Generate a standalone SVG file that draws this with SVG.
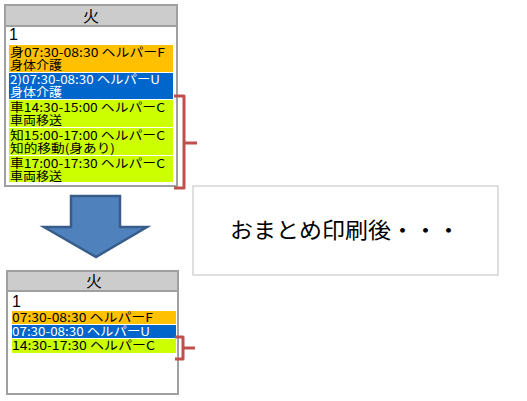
<svg xmlns="http://www.w3.org/2000/svg" width="527" height="401" viewBox="0 0 527 401">
<style>
.hdr{fill:#cccccc;stroke:#a0a0a0;stroke-width:2}
.frame{fill:#ffffff;stroke:#a0a0a0;stroke-width:2}
.t{font-family:"Noto Sans CJK JP","DejaVu Sans",sans-serif;font-size:12px;fill:#000}
.w{fill:#ffffff}
.h{font-family:"Noto Sans CJK JP",sans-serif;font-size:16px;fill:#000;text-anchor:middle}
.n{font-family:"Liberation Sans",sans-serif;font-size:16px;fill:#000}
.or{fill:#ffc000}.bl{fill:#0066cc}.gr{fill:#ccff00}
.br{fill:none;stroke:#c0504d;stroke-width:3;stroke-linejoin:round}
</style>
<g id="table-before">
<rect class="frame" x="5" y="5" width="172" height="181"/>
<rect class="hdr" x="5" y="5" width="172" height="21"/>
<text class="h" x="91" y="22">火</text>
<text class="n" x="9" y="40">1</text>
<rect class="or" x="9" y="45" width="164" height="27"/>
<rect class="bl" x="9" y="73" width="164" height="26"/>
<rect class="gr" x="9" y="100" width="164" height="27"/>
<rect class="gr" x="9" y="128" width="164" height="27"/>
<rect class="gr" x="9" y="156" width="164" height="26"/>
<text class="t" x="10" y="57" textLength="155" lengthAdjust="spacingAndGlyphs">身07:30-08:30 ヘルパーF</text>
<text class="t" x="10" y="70" textLength="52" lengthAdjust="spacingAndGlyphs">身体介護</text>
<text class="t w" x="10" y="84" textLength="150" lengthAdjust="spacingAndGlyphs">2)07:30-08:30 ヘルパーU</text>
<text class="t w" x="10" y="97" textLength="52" lengthAdjust="spacingAndGlyphs">身体介護</text>
<text class="t" x="10" y="112" textLength="155" lengthAdjust="spacingAndGlyphs">車14:30-15:00 ヘルパーC</text>
<text class="t" x="10" y="125" textLength="52" lengthAdjust="spacingAndGlyphs">車両移送</text>
<text class="t" x="10" y="140" textLength="155" lengthAdjust="spacingAndGlyphs">知15:00-17:00 ヘルパーC</text>
<text class="t" x="10" y="153" textLength="105" lengthAdjust="spacingAndGlyphs">知的移動(身あり)</text>
<text class="t" x="10" y="168" textLength="155" lengthAdjust="spacingAndGlyphs">車17:00-17:30 ヘルパーC</text>
<text class="t" x="10" y="181" textLength="52" lengthAdjust="spacingAndGlyphs">車両移送</text>
</g>
<g id="table-after">
<rect class="frame" x="7" y="271" width="171" height="123"/>
<rect class="hdr" x="7" y="271" width="171" height="20"/>
<text class="h" x="94" y="287">火</text>
<text class="n" x="12" y="307">1</text>
<rect class="or" x="12" y="311" width="164" height="13"/>
<rect class="bl" x="12" y="325" width="164" height="13"/>
<rect class="gr" x="12" y="339" width="164" height="14"/>
<text class="t" x="12" y="322" textLength="141" lengthAdjust="spacingAndGlyphs">07:30-08:30 ヘルパーF</text>
<text class="t w" x="12" y="336" textLength="138" lengthAdjust="spacingAndGlyphs">07:30-08:30 ヘルパーU</text>
<text class="t" x="12" y="350" textLength="143" lengthAdjust="spacingAndGlyphs">14:30-17:30 ヘルパーC</text>
</g>
<g id="note">
<rect x="193" y="186" width="305" height="89" fill="#ffffff" stroke="#bfbfbf" stroke-width="1"/>
<text x="345" y="238" font-family="Noto Sans CJK JP,sans-serif" font-size="22" text-anchor="middle" fill="#000" textLength="230" lengthAdjust="spacingAndGlyphs">おまとめ印刷後・・・</text>
</g>
<g id="arrow">
<polygon points="71,196 120,196 120,227 147,227 96,257 44,227 71,227" fill="#4f81bd" stroke="#385d8a" stroke-width="2.5"/>
</g>
<g id="connectors">
<path class="br" d="M174,96 H184 V188 H174 M184,143 H197"/>
<path class="br" d="M175,337 H183 V359 H175 M183,348 H195"/>
</g>
</svg>
